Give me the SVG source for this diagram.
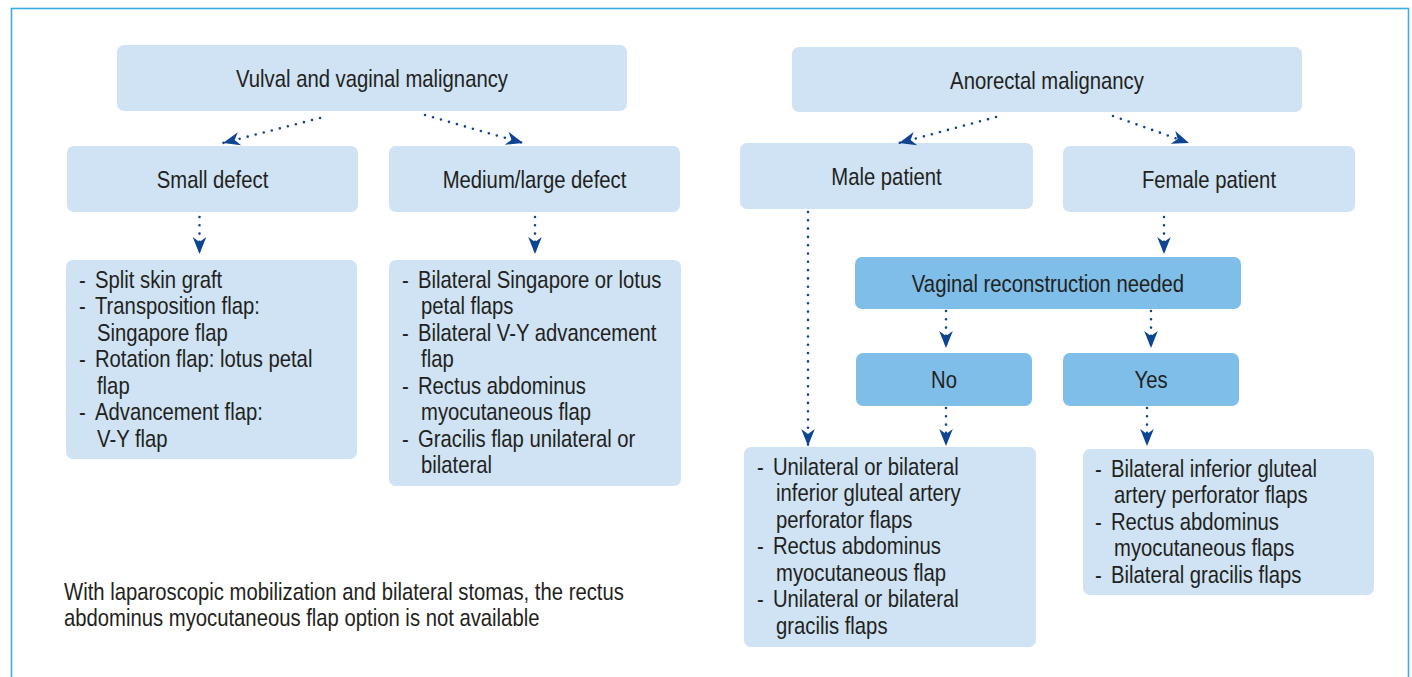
<svg xmlns="http://www.w3.org/2000/svg" width="1412" height="677" viewBox="0 0 1412 677">
<style>
.lt{fill:#cfe3f4}
.dk{fill:#7fbee8}
text{font-family:"Liberation Sans",Arial,sans-serif;font-size:24px;fill:#231f20}
.c{text-anchor:middle}
.con path{fill:none;stroke:#0e4592;stroke-width:2.6;stroke-linecap:round;stroke-dasharray:0 8.3;marker-end:url(#ah)}
</style>
<defs>
<marker id="ah" markerUnits="userSpaceOnUse" viewBox="-18 -8 20 16" refX="0" refY="0" markerWidth="20" markerHeight="16" orient="auto" overflow="visible">
<path d="M0,0 L-17,-6.8 L-12,0 L-17,6.8 Z" fill="#0e4592"/>
</marker>
</defs>
<rect x="11.5" y="8.5" width="1397" height="720" fill="#fff" stroke="#3aaee0" stroke-width="1.6"/>

<g id="vulval"><rect class="lt" x="117" y="45" width="510" height="66" rx="7"/><text class="c" transform="translate(372,87) scale(0.845,1)">Vulval and vaginal malignancy</text></g>
<g id="anorectal"><rect class="lt" x="792" y="47" width="510" height="65" rx="7"/><text class="c" transform="translate(1047,89) scale(0.845,1)">Anorectal malignancy</text></g>
<g id="small"><rect class="lt" x="67" y="146" width="291" height="66" rx="7"/><text class="c" transform="translate(212.5,188) scale(0.845,1)">Small defect</text></g>
<g id="medium"><rect class="lt" x="389" y="146" width="291" height="66" rx="7"/><text class="c" transform="translate(534.5,188) scale(0.845,1)">Medium/large defect</text></g>
<g id="male"><rect class="lt" x="740" y="143" width="293" height="66" rx="7"/><text class="c" transform="translate(886.5,185) scale(0.845,1)">Male patient</text></g>
<g id="female"><rect class="lt" x="1063" y="146" width="292" height="66" rx="7"/><text class="c" transform="translate(1209,188) scale(0.845,1)">Female patient</text></g>

<g id="small-list"><rect class="lt" x="66" y="260" width="291" height="199" rx="7"/>
<text transform="translate(79,0) scale(0.845,1)"><tspan x="0" y="288">-</tspan><tspan x="18.9">Split skin graft</tspan>
<tspan x="0" y="314.5">-</tspan><tspan x="18.9">Transposition flap:</tspan>
<tspan x="21.3" y="341">Singapore flap</tspan>
<tspan x="0" y="367.5">-</tspan><tspan x="18.9">Rotation flap: lotus petal</tspan>
<tspan x="21.3" y="394">flap</tspan>
<tspan x="0" y="420.5">-</tspan><tspan x="18.9">Advancement flap:</tspan>
<tspan x="21.3" y="447">V-Y flap</tspan></text></g>

<g id="medium-list"><rect class="lt" x="389" y="260" width="292" height="226" rx="7"/>
<text transform="translate(402,0) scale(0.845,1)"><tspan x="0" y="288">-</tspan><tspan x="18.9">Bilateral Singapore or lotus</tspan>
<tspan x="22.5" y="314.5">petal flaps</tspan>
<tspan x="0" y="341">-</tspan><tspan x="18.9">Bilateral V-Y advancement</tspan>
<tspan x="22.5" y="367.5">flap</tspan>
<tspan x="0" y="394">-</tspan><tspan x="18.9">Rectus abdominus</tspan>
<tspan x="22.5" y="420.5">myocutaneous flap</tspan>
<tspan x="0" y="447">-</tspan><tspan x="18.9">Gracilis flap unilateral or</tspan>
<tspan x="22.5" y="473.5">bilateral</tspan></text></g>

<g id="vaginal"><rect class="dk" x="855" y="257" width="386" height="52" rx="7"/><text class="c" transform="translate(1048,292) scale(0.845,1)">Vaginal reconstruction needed</text></g>
<g id="no"><rect class="dk" x="856" y="353" width="176" height="53" rx="7"/><text class="c" transform="translate(944,388) scale(0.845,1)">No</text></g>
<g id="yes"><rect class="dk" x="1063" y="353" width="176" height="53" rx="7"/><text class="c" transform="translate(1151,388) scale(0.845,1)">Yes</text></g>

<g id="male-list"><rect class="lt" x="744" y="447" width="292" height="200" rx="7"/>
<text transform="translate(757,0) scale(0.845,1)"><tspan x="0" y="475">-</tspan><tspan x="18.9">Unilateral or bilateral</tspan>
<tspan x="22.5" y="501.5">inferior gluteal artery</tspan>
<tspan x="22.5" y="528">perforator flaps</tspan>
<tspan x="0" y="554.5">-</tspan><tspan x="18.9">Rectus abdominus</tspan>
<tspan x="22.5" y="581">myocutaneous flap</tspan>
<tspan x="0" y="607.5">-</tspan><tspan x="18.9">Unilateral or bilateral</tspan>
<tspan x="22.5" y="634">gracilis flaps</tspan></text></g>

<g id="yes-list"><rect class="lt" x="1083" y="449" width="291" height="146" rx="7"/>
<text transform="translate(1095,0) scale(0.845,1)"><tspan x="0" y="477">-</tspan><tspan x="18.9">Bilateral inferior gluteal</tspan>
<tspan x="22.5" y="503.5">artery perforator flaps</tspan>
<tspan x="0" y="530">-</tspan><tspan x="18.9">Rectus abdominus</tspan>
<tspan x="22.5" y="556.5">myocutaneous flaps</tspan>
<tspan x="0" y="583">-</tspan><tspan x="18.9">Bilateral gracilis flaps</tspan></text></g>

<g id="note"><text transform="translate(64,0) scale(0.845,1)"><tspan x="0" y="600">With laparoscopic mobilization and bilateral stomas, the rectus</tspan>
<tspan x="0" y="626.5">abdominus myocutaneous flap option is not available</tspan></text></g>

<g id="connectors" class="con">
<path d="M320,118 L223,143"/>
<path d="M425,115 L523,143"/>
<path d="M199.5,217 L199.5,254"/>
<path d="M535,217 L535,254"/>
<path d="M996,117 L899,143"/>
<path d="M1113,116 L1189,143"/>
<path d="M1164,217 L1164,254"/>
<path d="M808,212 L808,446"/>
<path d="M946,311 L946,348"/>
<path d="M1151,311 L1151,348"/>
<path d="M946,408 L946,446"/>
<path d="M1147,408 L1147,446"/>
</g>
</svg>
